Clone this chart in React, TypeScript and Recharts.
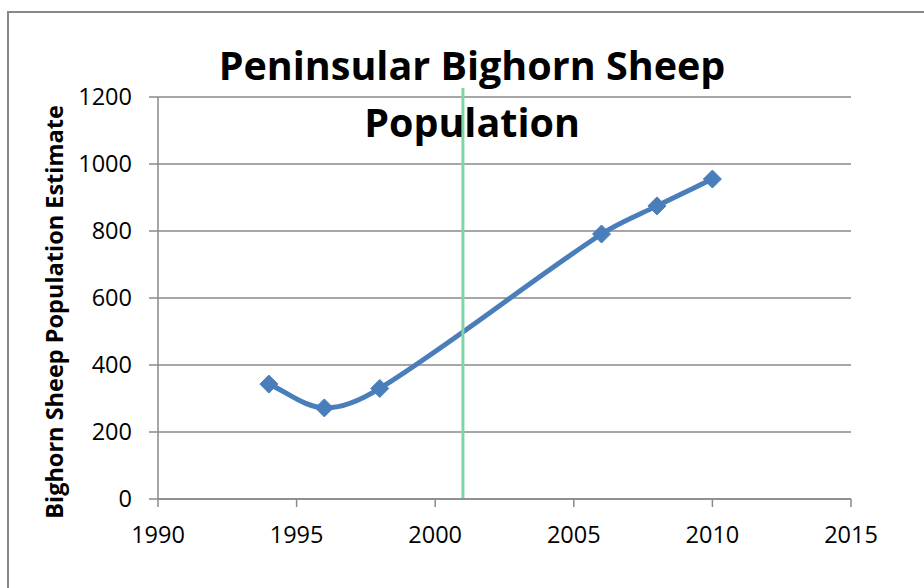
import React from "react";
import {
  LineChart,
  Line,
  XAxis,
  YAxis,
  CartesianGrid,
  ReferenceLine,
} from "recharts";

const years = [1994, 1996, 1998, 2006, 2008, 2010];
const population = [343, 272, 330, 791, 875, 955];
const xTicks = [1990, 1995, 2000, 2005, 2010, 2015];
const yTicks = [0, 200, 400, 600, 800, 1000, 1200];
const markerYear = 2001;
const titleLines = ["Peninsular Bighorn Sheep", "Population"];
const yAxisTitle = "Bighorn Sheep Population Estimate";

const data = years.map((y, i) => ({ year: y, pop: population[i] }));

const FONT = "'Open Sans', sans-serif";
const GRID = "#8a8a8a";

// Smoothed line: tangent direction from neighbours, handle length from segment length
const excelSmooth: any = (context: any) => {
  let pts: [number, number][] = [];
  const unit = (a: [number, number], b: [number, number]) => {
    const dx = b[0] - a[0];
    const dy = b[1] - a[1];
    const l = Math.hypot(dx, dy) || 1;
    return [dx / l, dy / l];
  };
  return {
    areaStart() {},
    areaEnd() {},
    lineStart() {
      pts = [];
    },
    point(x: number, y: number) {
      pts.push([+x, +y]);
    },
    lineEnd() {
      const n = pts.length;
      if (n === 0) return;
      context.moveTo(pts[0][0], pts[0][1]);
      for (let i = 0; i < n - 1; i++) {
        const p0 = pts[i === 0 ? 0 : i - 1];
        const p1 = pts[i];
        const p2 = pts[i + 1];
        const p3 = pts[i + 2 < n ? i + 2 : n - 1];
        const len = Math.hypot(p2[0] - p1[0], p2[1] - p1[1]) / 3;
        const t1 = unit(p0, p2);
        const t2 = unit(p1, p3);
        context.bezierCurveTo(
          p1[0] + t1[0] * len,
          p1[1] + t1[1] * len,
          p2[0] - t2[0] * len,
          p2[1] - t2[1] * len,
          p2[0],
          p2[1]
        );
      }
    },
  };
};

const Diamond = (props: any) => {
  const { cx, cy } = props;
  if (cx == null || cy == null) return null;
  const r = 9;
  return (
    <polygon
      points={`${cx},${cy - r} ${cx + r},${cy} ${cx},${cy + r} ${cx - r},${cy}`}
      fill="#4a7ebb"
      stroke="#4a7ebb"
      strokeWidth={1}
    />
  );
};

export default function App() {
  return (
    <div
      style={{
        position: "fixed",
        left: 0,
        top: 0,
        width: 924,
        height: 588,
        overflow: "hidden",
        background: "#fff",
      }}
    >
      <div
        style={{
          position: "absolute",
          left: 7,
          top: 11,
          width: 1000,
          height: 1000,
          border: "2px solid #888",
          boxSizing: "border-box",
        }}
      />
      <div style={{ position: "absolute", left: 0, top: 0 }}>
        <LineChart
          width={924}
          height={588}
          data={data}
          margin={{ top: 97, right: 73, bottom: 0, left: 0 }}
        >
          <CartesianGrid vertical={false} stroke={GRID} strokeWidth={1.5} />
          <XAxis
            dataKey="year"
            type="number"
            domain={[1990, 2015]}
            ticks={xTicks}
            height={89}
            tickSize={8}
            tickMargin={19}
            axisLine={{ stroke: GRID, strokeWidth: 1.5 }}
            tickLine={{ stroke: GRID, strokeWidth: 1.5 }}
            tick={{ fill: "#000", fontSize: 23.5, fontFamily: FONT }}
            allowDecimals={false}
          />
          <YAxis
            type="number"
            domain={[0, 1200]}
            ticks={yTicks}
            width={158}
            tickSize={9}
            tickMargin={17}
            axisLine={{ stroke: GRID, strokeWidth: 1.5 }}
            tickLine={{ stroke: GRID, strokeWidth: 1.5 }}
            tick={{ fill: "#000", fontSize: 23.5, fontFamily: FONT }}
          />
          <Line
            type={excelSmooth}
            dataKey="pop"
            stroke="#4a7ebb"
            strokeWidth={5}
            dot={<Diamond />}
            activeDot={false}
            isAnimationActive={false}
          />
          <ReferenceLine
            segment={[
              { x: markerYear, y: 0 },
              { x: markerYear, y: 1227 },
            ]}
            ifOverflow="visible"
            stroke="#7fd6a2"
            strokeWidth={3}
          />
        </LineChart>
      </div>
      <svg
        width={924}
        height={588}
        style={{ position: "absolute", left: 0, top: 0, pointerEvents: "none" }}
      >
        <text
          x={472}
          y={80}
          textAnchor="middle"
          fontFamily={FONT}
          fontWeight="bold"
          fontSize={39.5}
          fill="#000"
        >
          {titleLines[0]}
        </text>
        <text
          x={472}
          y={137}
          textAnchor="middle"
          fontFamily={FONT}
          fontWeight="bold"
          fontSize={39.5}
          fill="#000"
        >
          {titleLines[1]}
        </text>
        <text
          x={63}
          y={312}
          transform="rotate(-90 63 312)"
          textAnchor="middle"
          fontFamily={FONT}
          fontWeight="bold"
          fontSize={23.5}
          fill="#000"
        >
          {yAxisTitle}
        </text>
      </svg>
    </div>
  );
}
